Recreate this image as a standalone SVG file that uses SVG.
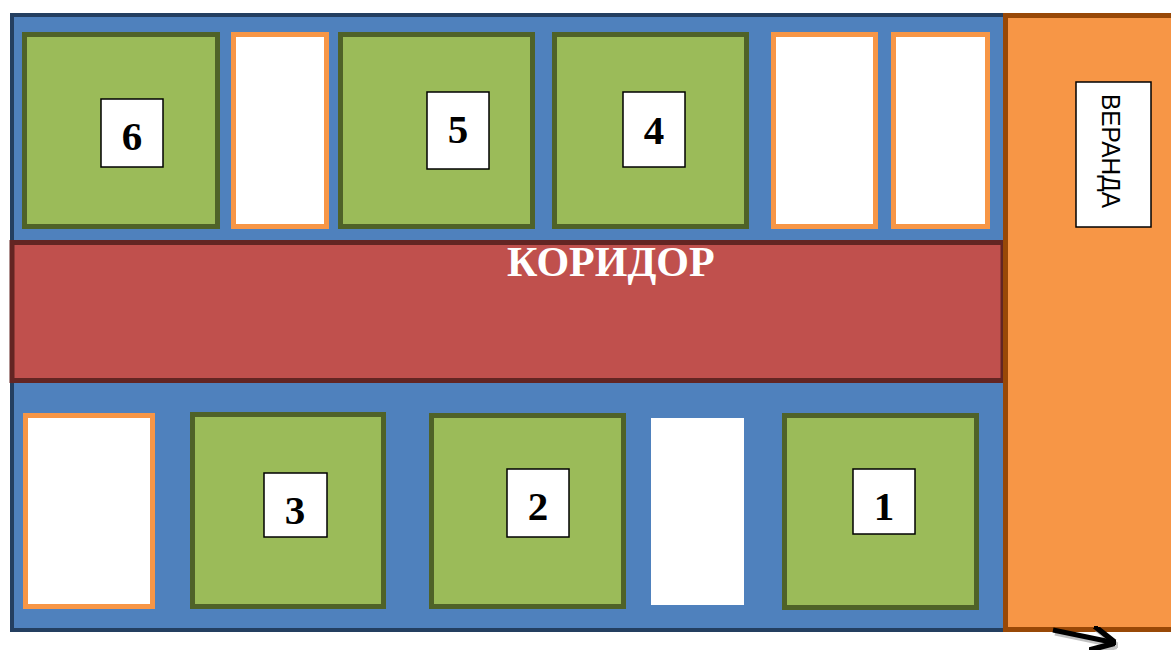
<svg xmlns="http://www.w3.org/2000/svg" width="1171" height="650" viewBox="0 0 1171 650">
<defs>
<style>
.green{fill:#9bbb59;stroke:#4f6228;stroke-width:5}
.orange{fill:#ffffff;stroke:#f79646;stroke-width:5}
.lbl{fill:#ffffff;stroke:#000000;stroke-width:1.5}
.num{font-family:"Liberation Serif","Times New Roman",serif;font-weight:bold;font-size:41px;fill:#000;text-anchor:middle}
</style>
<marker id="ah" viewBox="0 0 10 10" refX="8" refY="5" markerWidth="5" markerHeight="5" orient="auto" markerUnits="strokeWidth">
<path d="M0,0 L10,5 L0,10" fill="none" stroke="#000" stroke-width="2.2"/>
</marker>
<marker id="ahs" viewBox="0 0 10 10" refX="8" refY="5" markerWidth="5" markerHeight="5" orient="auto" markerUnits="strokeWidth">
<path d="M0,0 L10,5 L0,10" fill="none" stroke="#9a9a9a" stroke-width="2.2" stroke-opacity="0.6"/>
</marker>
</defs>
<rect width="1171" height="650" fill="#ffffff"/>
<g id="building">
<rect x="12" y="15" width="993" height="615" fill="#4f81bd" stroke="#243f60" stroke-width="4"/>
</g>
<g id="corridor">
<rect x="12" y="242.5" width="991" height="138" fill="#c0504d" stroke="#632523" stroke-width="5"/>
<text x="507" y="276" font-family="Liberation Serif,'Times New Roman',serif" font-weight="bold" font-size="42" fill="#ffffff">КОРИДОР</text>
</g>
<g id="veranda">
<rect x="1005.5" y="15.5" width="200" height="614" fill="#f79646" stroke="#984807" stroke-width="5"/>
<rect x="1076" y="82" width="75" height="145" fill="#ffffff" stroke="#000" stroke-width="1.5"/>
<text transform="translate(1102,151) rotate(90)" x="0" y="0" text-anchor="middle" font-family="Liberation Sans,Arial,sans-serif" font-size="25" textLength="114" lengthAdjust="spacingAndGlyphs" fill="#000">ВЕРАНДА</text>
</g>
<g id="room6">
<rect class="green" x="24.5" y="34.5" width="193" height="192"/>
<rect class="lbl" x="101" y="99" width="62" height="68"/>
<text class="num" x="132" y="150">6</text>
</g>
<g id="store-top-1"><rect class="orange" x="233.5" y="34.5" width="93" height="192"/></g>
<g id="room5">
<rect class="green" x="340.5" y="34.5" width="192" height="192"/>
<rect class="lbl" x="427" y="92" width="62" height="77"/>
<text class="num" x="458" y="143">5</text>
</g>
<g id="room4">
<rect class="green" x="554.5" y="34.5" width="192" height="192"/>
<rect class="lbl" x="623" y="92" width="62" height="75"/>
<text class="num" x="654" y="144">4</text>
</g>
<g id="store-top-2"><rect class="orange" x="773.5" y="34.5" width="102" height="192"/></g>
<g id="store-top-3"><rect class="orange" x="893.5" y="34.5" width="94" height="192"/></g>
<g id="store-bottom-1"><rect class="orange" x="25.5" y="415.5" width="127" height="191"/></g>
<g id="room3">
<rect class="green" x="192.5" y="414.5" width="191" height="192"/>
<rect class="lbl" x="264" y="473" width="63" height="64"/>
<text class="num" x="295" y="524">3</text>
</g>
<g id="room2">
<rect class="green" x="431.5" y="415.5" width="192" height="191"/>
<rect class="lbl" x="507" y="469" width="62" height="68"/>
<text class="num" x="538" y="520">2</text>
</g>
<g id="store-bottom-2"><rect x="651" y="418" width="93" height="187" fill="#ffffff"/></g>
<g id="room1">
<rect class="green" x="784.5" y="415.5" width="192" height="192"/>
<rect class="lbl" x="853" y="469" width="62" height="65"/>
<text class="num" x="884" y="520">1</text>
</g>
<g id="connectors">
<line x1="1055" y1="633" x2="1113" y2="645" stroke="#9a9a9a" stroke-opacity="0.6" stroke-width="5" marker-end="url(#ahs)"/>
<line x1="1053" y1="630" x2="1111" y2="642" stroke="#000" stroke-width="5" marker-end="url(#ah)"/>
</g>
</svg>
